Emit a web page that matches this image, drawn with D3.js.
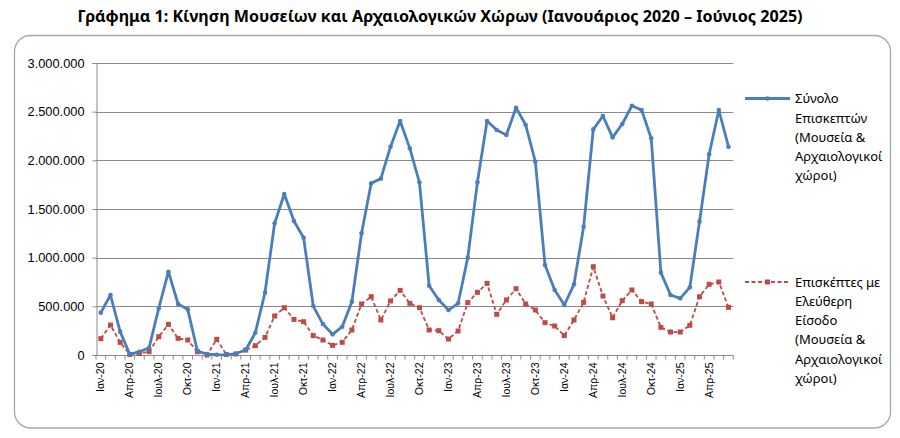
<!DOCTYPE html>
<html>
<head>
<meta charset="utf-8">
<script src="https://cdn.jsdelivr.net/npm/d3@7"></script>
<style>
  html, body { margin: 0; padding: 0; background: #fff; }
  svg { display: block; }
</style>
</head>
<body>
<div id="chart"></div>
<script>
// month abbreviations and years of the category axis
const monthNames = ["Ιαν", "Φεβ", "Μαρ", "Απρ", "Μαϊ", "Ιουν", "Ιουλ", "Αυγ", "Σεπ", "Οκτ", "Νοε", "Δεκ"]
const years = ["20", "21", "22", "23", "24", "25"]
const lastMonthCount = 6

// total visitors (museums & archaeological sites)
const totalVisitors = [
  435000, 616000, 240000, 7000, 34000, 75000, 480000, 856000, 524000, 469000, 41000, 10000,
  3000, 2000, 15000, 51000, 229000, 640000, 1353000, 1654000, 1377000, 1205000, 503000, 318000,
  212000, 291000, 548000, 1250000, 1764000, 1812000, 2140000, 2404000, 2123000, 1771000, 712000, 565000,
  462000, 531000, 1000000, 1774000, 2404000, 2312000, 2260000, 2541000, 2363000, 1986000, 925000, 668000,
  514000, 726000, 1318000, 2318000, 2455000, 2236000, 2373000, 2561000, 2517000, 2226000, 846000, 616000,
  582000, 695000, 1370000, 2062000, 2517000, 2140000
]

// visitors with free entry
const freeVisitors = [
  168000, 308000, 130000, 5000, 15000, 34000, 188000, 315000, 171000, 154000, 34000, 0,
  161000, 5000, 10000, 51000, 96000, 181000, 400000, 486000, 366000, 342000, 199000, 154000,
  99000, 130000, 257000, 524000, 599000, 360000, 555000, 664000, 531000, 486000, 257000, 250000,
  164000, 247000, 538000, 644000, 736000, 418000, 565000, 681000, 524000, 462000, 332000, 298000,
  199000, 360000, 541000, 907000, 606000, 383000, 558000, 668000, 548000, 524000, 284000, 236000,
  236000, 305000, 599000, 726000, 750000, 490000
]

const yTicks = [0, 500000, 1000000, 1500000, 2000000, 2500000, 3000000]
const labelEvery = 3

const titleText = "Γράφημα 1: Κίνηση Μουσείων και Αρχαιολογικών Χώρων (Ιανουάριος 2020 – Ιούνιος 2025)"
const legendTotal = ["Σύνολο", "Επισκεπτών", "(Μουσεία &", "Αρχαιολογικοί", "χώροι)"]
const legendFree = ["Επισκέπτες με", "Ελεύθερη", "Είσοδο", "(Μουσεία &", "Αρχαιολογικοί", "χώροι)"]

const categories = []
years.forEach((yr, yi) => {
  const n = yi === years.length - 1 ? lastMonthCount : monthNames.length
  for (let m = 0; m < n; m += 1) categories.push(monthNames[m] + "-" + yr)
})

const width = 900, height = 438
const plot = { left: 96, right: 733.3, top: 63, bottom: 355 }
const blue = "#4a7ebb", red = "#be4b48", grid = "#8a8a8a"

const svg = d3.select("#chart").append("svg")
  .attr("width", width)
  .attr("height", height)

// outer chart frame
svg.append("rect")
  .attr("x", 14.5).attr("y", 35.5)
  .attr("width", 876).attr("height", 392.5)
  .attr("rx", 16).attr("ry", 16)
  .attr("fill", "#fff")
  .attr("stroke", "#a6a6a6")
  .attr("stroke-width", 1.3)

// title, fitted to the width it takes in the original
const title = svg.append("text")
  .attr("x", 440).attr("y", 22)
  .attr("text-anchor", "middle")
  .style("font-family", "'Noto Sans', sans-serif")
  .style("font-weight", "bold")
  .style("font-size", "15px")
  .attr("fill", "#000")
  .text(titleText)
const tw = title.node().getComputedTextLength()
title.style("font-size", (15 * 726 / tw).toFixed(2) + "px")

const x = d3.scaleBand()
  .domain(categories)
  .range([plot.left, plot.right])

const y = d3.scaleLinear()
  .domain([0, 3000000])
  .range([plot.bottom, plot.top])

const fmt = v => d3.format(",")(v).replace(/,/g, ".")

// horizontal gridlines
svg.append("g")
  .selectAll("line")
  .data(yTicks.filter(d => d > 0))
  .enter()
  .append("line")
  .attr("x1", plot.left).attr("x2", plot.right)
  .attr("y1", d => Math.round(y(d)) + 0.5)
  .attr("y2", d => Math.round(y(d)) + 0.5)
  .attr("stroke", grid)
  .attr("stroke-width", 1)

// y axis
const yAxis = svg.append("g")
  .attr("transform", `translate(${plot.left + 0.5},0)`)
  .call(d3.axisLeft(y).tickValues(yTicks).tickSize(4).tickPadding(8).tickFormat(fmt))
yAxis.select(".domain").attr("stroke", grid)
yAxis.selectAll(".tick line").attr("stroke", grid)
yAxis.selectAll(".tick text")
  .style("font-family", "'Liberation Sans', Arial, sans-serif")
  .style("font-size", "12.8px")
  .attr("fill", "#000")

// x axis: ticks on category boundaries, labels every third month
const xAxis = svg.append("g")
  .attr("transform", `translate(0,${Math.round(plot.bottom) + 0.5})`)
xAxis.append("line")
  .attr("x1", plot.left).attr("x2", plot.right)
  .attr("stroke", grid)
xAxis.selectAll(".bound")
  .data(categories.concat(["end"]))
  .enter()
  .append("line")
  .attr("class", "bound")
  .attr("x1", (d, i) => i < categories.length ? x(d) : plot.right)
  .attr("x2", (d, i) => i < categories.length ? x(d) : plot.right)
  .attr("y1", 0).attr("y2", 4)
  .attr("stroke", grid)
xAxis.selectAll(".lbl")
  .data(categories.filter((d, i) => i % labelEvery === 0))
  .enter()
  .append("text")
  .attr("class", "lbl")
  .attr("transform", d => `translate(${x(d) + x.bandwidth() / 2 + 3.5},7) rotate(-90)`)
  .attr("text-anchor", "end")
  .style("font-family", "'Liberation Sans', Arial, sans-serif")
  .style("font-size", "10.5px")
  .attr("fill", "#000")
  .text(d => d)

const cx = (d, i) => x(categories[i]) + x.bandwidth() / 2

const line = d3.line()
  .x(cx)
  .y(d => y(d))

// free-entry series
svg.append("path")
  .datum(freeVisitors)
  .attr("d", line)
  .attr("fill", "none")
  .attr("stroke", red)
  .attr("stroke-width", 1.8)
  .attr("stroke-dasharray", "4,2.5")
svg.append("g")
  .selectAll("rect")
  .data(freeVisitors)
  .enter()
  .append("rect")
  .attr("x", (d, i) => cx(d, i) - 2.5)
  .attr("y", d => y(d) - 2.5)
  .attr("width", 5).attr("height", 5)
  .attr("fill", red)

// total series
svg.append("path")
  .datum(totalVisitors)
  .attr("d", line)
  .attr("fill", "none")
  .attr("stroke", blue)
  .attr("stroke-width", 2.8)
  .attr("stroke-linejoin", "round")
svg.append("g")
  .selectAll("circle")
  .data(totalVisitors)
  .enter()
  .append("circle")
  .attr("cx", cx)
  .attr("cy", d => y(d))
  .attr("r", 2.3)
  .attr("fill", blue)

// legend
const legend = svg.append("g")
function legendEntry(lines, yc, color, dashed) {
  legend.append("line")
    .attr("x1", 745).attr("x2", 790)
    .attr("y1", yc).attr("y2", yc)
    .attr("stroke", color)
    .attr("stroke-width", dashed ? 1.8 : 2.8)
    .attr("stroke-dasharray", dashed ? "4,2.5" : null)
  if (dashed) {
    legend.append("rect")
      .attr("x", 765).attr("y", yc - 2.5)
      .attr("width", 5).attr("height", 5)
      .attr("fill", color)
  } else {
    legend.append("circle")
      .attr("cx", 767.5).attr("cy", yc).attr("r", 2.3)
      .attr("fill", color)
  }
  legend.append("text")
    .attr("x", 795).attr("y", yc + 4.8)
    .style("font-family", "'Noto Sans', sans-serif")
    .style("font-size", "13px")
    .attr("fill", "#000")
    .selectAll("tspan")
    .data(lines)
    .enter()
    .append("tspan")
    .attr("x", 795)
    .attr("dy", (d, i) => i === 0 ? 0 : 19.2)
    .text(d => d)
}
legendEntry(legendTotal, 98.5, blue, false)
legendEntry(legendFree, 282, red, true)
</script>
</body>
</html>
